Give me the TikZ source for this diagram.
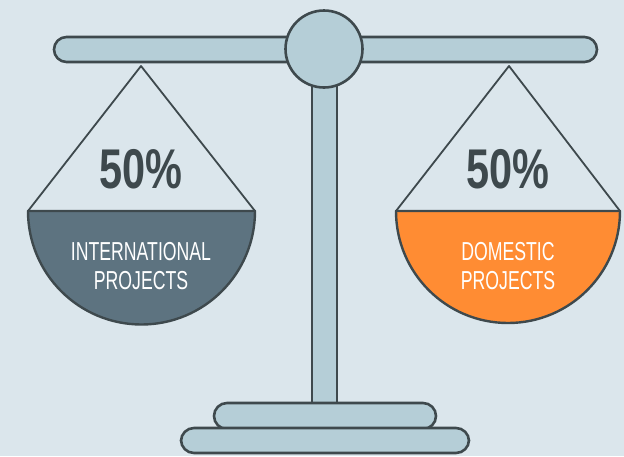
\documentclass[tikz,border=0pt]{standalone}
\usepackage{fontspec}
\setmainfont{Liberation Sans}
\newfontfamily\numfont[FakeStretch=0.74]{Liberation Sans}
\newfontfamily\labfont[FakeStretch=0.68]{Liberation Sans}

\begin{document}
\begin{tikzpicture}[x=1pt,y=-1pt,line join=round]

\definecolor{mybg}{HTML}{DBE6EC}
\definecolor{mysteel}{HTML}{B5CED7}
\definecolor{myline}{HTML}{3E494D}
\definecolor{myslate}{HTML}{5D7380}
\definecolor{myorange}{HTML}{FF8C33}

\tikzset{
  part/.style={draw=myline,fill=mysteel,line width=2.6pt},
  cord/.style={draw=myline,line width=1.8pt},
  bowl/.style={draw=myline,line width=2.4pt},
  pct/.style={anchor=base,text=myline,font=\numfont\bfseries\fontsize{56}{56}\selectfont},
  tag/.style={anchor=base,text=white,font=\labfont\fontsize{26}{26}\selectfont}
}

\fill[mybg] (0,0) rectangle (624,456);
\useasboundingbox (0,0) rectangle (624,456);

% stand
\draw[part] (312,80) rectangle (337,405);
\draw[part,rounded corners=12.5] (54,37) rectangle (597,62);
\draw[part] (324,49) circle (38.5);
\node (hub) at (324,49) {};
\draw[part,rounded corners=13] (214,403) rectangle (436,429);
\draw[part,rounded corners=13] (181,428) rectangle (469,453);

% left pan
\coordinate (lapex) at (141,66);
\coordinate (lleft) at (28,211);
\coordinate (lright) at (255,211);
\fill[myslate] (lleft) arc[start angle=180,end angle=0,radius=113.5] -- cycle;
\draw[bowl] (lleft) arc[start angle=180,end angle=0,radius=113.5] -- cycle;
\draw[cord] (lleft) -- (lapex) -- (lright);
\node[pct] (lpct) at (141,188) {50\%};
\node[tag] (ltag1) at (141,260) {INTERNATIONAL};
\node[tag] (ltag2) at (141,289) {PROJECTS};

% right pan
\coordinate (rapex) at (509,66);
\coordinate (rleft) at (396,211);
\coordinate (rright) at (620,211);
\fill[myorange] (rleft) arc[start angle=180,end angle=0,radius=112] -- cycle;
\draw[bowl] (rleft) arc[start angle=180,end angle=0,radius=112] -- cycle;
\draw[cord] (rleft) -- (rapex) -- (rright);
\node[pct] (rpct) at (508,188) {50\%};
\node[tag] (rtag1) at (508,260) {DOMESTIC};
\node[tag] (rtag2) at (508,289) {PROJECTS};

\end{tikzpicture}
\end{document}
